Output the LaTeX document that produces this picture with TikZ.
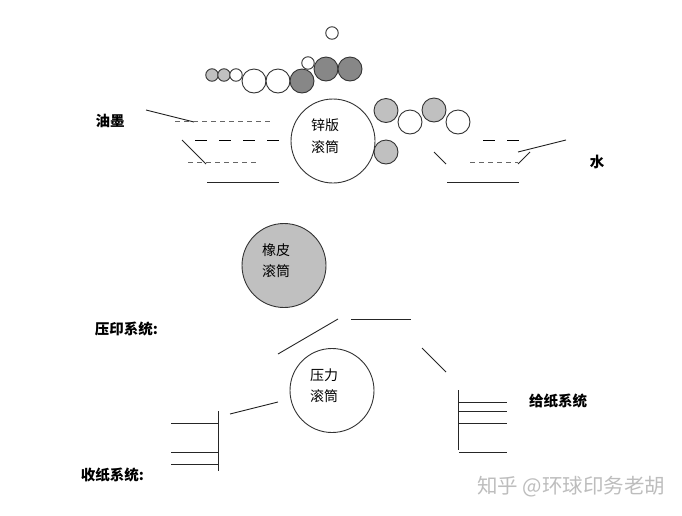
\documentclass[tikz,border=0pt]{standalone}
\usepackage{fontspec}
\setmainfont{Liberation Sans}
\newfontfamily\cjk{Noto Sans CJK SC}
\definecolor{inkgray}{HTML}{C0C0C0}
\definecolor{darkgray}{HTML}{878787}
\definecolor{edgegray}{HTML}{333333}
\definecolor{markgray}{HTML}{BDBDBD}
\tikzset{
  roller/.style={draw=edgegray,circle,inner sep=0pt,outer sep=0pt,line width=0.9pt,fill=white},
  big/.style={roller,minimum size=84pt},
  mid/.style={roller,minimum size=24pt},
  tiny/.style={roller,minimum size=12.5pt},
  rim/.style={line width=0.9pt,black!85},
  thinrim/.style={line width=0.6pt,black!60,dash pattern=on 5pt off 4pt},
  longrim/.style={line width=0.9pt,black,dash pattern=on 12pt off 12pt},
  rollertext/.style={inner sep=0pt,font=\cjk\fontsize{14}{14}\selectfont},
  title/.style={inner sep=0pt,font=\cjk\bfseries\fontsize{14.5}{14.5}\selectfont}
}
\begin{document}
\begin{tikzpicture}[x=1pt,y=-1pt]
\useasboundingbox (0,0) rectangle (682,515);
% rollers
\node[big] (zinc) at (333,141) {};
\node[big,fill=inkgray] (rubber) at (284,265.5) {};
\node[big] (press) at (332,390.5) {};
% ink train
\node[tiny] (top) at (332,33) {};
\node[tiny,fill=inkgray] (inka) at (212,75) {};
\node[tiny,fill=inkgray] (inkb) at (224,75) {};
\node[tiny] (inkc) at (236,75) {};
\node[mid] (inkd) at (254,81) {};
\node[mid] (inke) at (278,81) {};
\node[tiny] (inkf) at (308,63) {};
\node[mid,fill=darkgray] (inkg) at (302,81) {};
\node[mid,fill=darkgray] (inkh) at (326,69) {};
\node[mid,fill=darkgray] (inki) at (350,69) {};
% water train
\node[mid,fill=inkgray] (wata) at (386,110.5) {};
\node[mid] (watb) at (410,122) {};
\node[mid,fill=inkgray] (watc) at (434,110) {};
\node[mid] (watd) at (458,122) {};
\node[mid,fill=inkgray] (wate) at (386,152) {};
% ink fountain
\draw[rim] (146,110) -- (194,122);
\draw[thinrim] (175,121) -- (273,121);
\draw[longrim] (195,140) -- (280,140);
\draw[rim] (182,140) -- (206,164);
\draw[thinrim] (188,162) -- (256,162);
\draw[rim] (207,182) -- (279,182);
% water fountain
\draw[longrim] (483,140) -- (519,140);
\draw[rim] (518,152) -- (566,140);
\draw[rim] (530,152) -- (518,164);
\draw[rim] (434,152) -- (446,164);
\draw[thinrim] (470,162) -- (518,162);
\draw[rim] (447,182) -- (519,182);
% paper path
\draw[rim] (278,354) -- (338,319);
\draw[rim] (351,319) -- (411,319);
\draw[rim] (230,414) -- (278,402);
\draw[rim] (422,348) -- (446,372);
% delivery pile
\draw[rim] (218,411) -- (218,471);
\draw[rim] (171,423) -- (218,423);
\draw[rim] (171,452) -- (218,452);
\draw[rim] (171,464) -- (218,464);
% feeder pile
\draw[rim] (458,390) -- (458,450);
\draw[rim] (458,402) -- (507,402);
\draw[rim] (458,411) -- (507,411);
\draw[rim] (458,423) -- (507,423);
\draw[rim] (459,452) -- (507,452);
% texts
\node[rollertext] (zinca) at (325,125) {锌版};
\node[rollertext] (zincb) at (325,147) {滚筒};
\node[rollertext] (rubbera) at (276,250) {橡皮};
\node[rollertext] (rubberb) at (276,271) {滚筒};
\node[rollertext] (pressa) at (324,375) {压力};
\node[rollertext] (pressb) at (324,396) {滚筒};
\node[title] (ink) at (110,121) {油墨};
\node[title] (water) at (597,162) {水};
\node[title] (printing) at (126.5,329) {压印系统:};
\node[title] (delivery) at (112.5,474.5) {收纸系统:};
\node[title] (feeder) at (558,401) {给纸系统};
\node[inner sep=0pt,text=markgray,font=\cjk\fontsize{20.5}{20.5}\selectfont] (mark) at (571,487) {知乎 @环球印务老胡};
\end{tikzpicture}
\end{document}
